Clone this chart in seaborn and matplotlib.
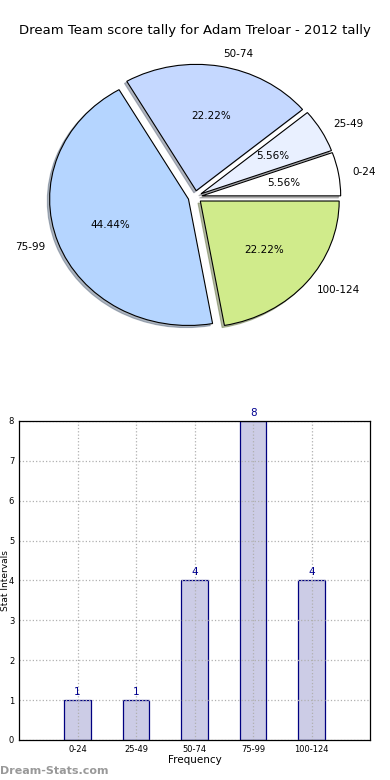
import matplotlib
matplotlib.use('Agg')
import matplotlib.pyplot as plt
import pandas as pd
import seaborn as sns

# Data
intervals = ['0-24', '25-49', '50-74', '75-99', '100-124']
counts = [1, 1, 4, 8, 4]
pie_colors = ['#ffffff', '#e9f0ff', '#c5d8ff', '#b5d5ff', '#d0eb8b']
title = 'Dream Team score tally for Adam Treloar - 2012 tally'

sns.set_style('white')
plt.rcParams['font.family'] = ['DejaVu Sans']
plt.rcParams['text.color'] = 'black'
plt.rcParams['axes.labelcolor'] = 'black'
plt.rcParams['xtick.color'] = 'black'
plt.rcParams['ytick.color'] = 'black'

fig = plt.figure(figsize=(3.9, 7.8), dpi=100)

# Pie chart
ax1 = fig.add_axes([0.055, 0.545, 0.89, 0.405])
wedges, texts, autotexts = ax1.pie(counts,
                                   labels=intervals,
                                   colors=pie_colors,
                                   explode=[0.05] * len(counts),
                                   autopct='%.2f%%',
                                   shadow={'ox': -0.012, 'oy': -0.012, 'shade': 0.5},
                                   startangle=0,
                                   counterclock=True,
                                   wedgeprops={'edgecolor': 'black', 'linewidth': 0.8},
                                   textprops={'fontsize': 7.5, 'color': 'black'})
ax1.set_aspect('auto')
fig.text(0.5, 0.961, title, ha='center', va='center', fontsize=9.5)

# Bar chart
ax2 = fig.add_axes([0.049, 0.0513, 0.9, 0.409])
df = pd.DataFrame({'Interval': intervals, 'Count': counts})
sns.barplot(data=df, x='Interval', y='Count', ax=ax2,
            color='#cccce6', edgecolor='#000080', linewidth=0.9,
            width=0.45, saturation=1)
for i, c in enumerate(counts):
    ax2.text(i, c + 0.08, str(c), ha='center', va='bottom',
             fontsize=7.5, color='#000090')

ax2.set_xlim(-1, 5)
ax2.set_ylim(0, 8)
ax2.set_yticks(range(0, 9))
ax2.grid(True, linestyle=':', color='#b0b0b0', linewidth=0.9)
ax2.set_axisbelow(False)
for s in ax2.spines.values():
    s.set_visible(True)
    s.set_color('black')
    s.set_linewidth(0.9)
    s.set_zorder(4)
ax2.tick_params(direction='in', labelsize=6, length=3, color='black', labelcolor='black')
ax2.set_xlabel('Frequency', fontsize=7.5, labelpad=1)
ax2.set_ylabel('Stat Intervals', fontsize=6.5)
ax2.yaxis.set_label_coords(-0.027, 0.5)

fig.text(0.0, 0.012, 'Dream-Stats.com', fontsize=8, color='#999999',
         fontweight='bold', ha='left', va='center')

fig.savefig('out.png', dpi=100)
